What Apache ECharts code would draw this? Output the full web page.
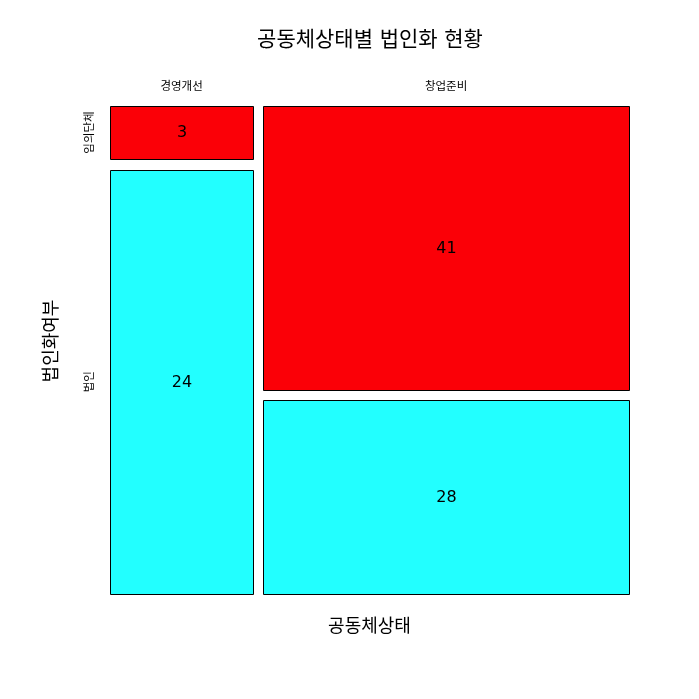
<!DOCTYPE html>
<html><head><meta charset="utf-8">
<script src="https://cdn.jsdelivr.net/npm/echarts@6/dist/echarts.min.js"></script>
<style>html,body{margin:0;padding:0;background:#fff}#c{width:699px;height:699px}</style>
</head><body><div id="c"></div>
<script>
var colCategories = ['경영개선', '창업준비'];
var rowCategories = ['임의단체', '법인'];
// counts[col][row]
var countsByCol = [[3, 24], [41, 28]];
var rowColors = ['#FB0007', '#22FFFF'];
var titleText = '공동체상태별 법인화 현황';
var xTitle = '공동체상태';
var yTitle = '법인화여부';

var FONT = 'DejaVu Sans, Noto Sans CJK KR, sans-serif';
var gridL = 110, gridR = 70, gridT = 106, gridB = 105;
var plotW = 699 - gridL - gridR, plotH = 699 - gridT - gridB;
var gx = 10 / plotW, gy = 10.5 / plotH;

var total = 0, colTotals = countsByCol.map(function (c) { var s = c.reduce(function (a, b) { return a + b; }, 0); total += s; return s; });

var cells = [];
var colCenters = [];
var cumX = 0;
for (var i = 0; i < colCategories.length; i++) {
  var wFrac = colTotals[i] / total * (1 - gx * (colCategories.length - 1));
  var x0 = cumX, x1 = cumX + wFrac;
  colCenters.push((x0 + x1) / 2);
  var cumY = 0;
  for (var j = 0; j < rowCategories.length; j++) {
    var hFrac = countsByCol[i][j] / colTotals[i] * (1 - gy * (rowCategories.length - 1));
    cells.push([x0, x1, cumY, cumY + hFrac, countsByCol[i][j], j, i]);
    cumY += hFrac + gy;
  }
  cumX = x1 + gx;
}
var rowCenters = cells.filter(function (c) { return c[6] === 0; }).map(function (c) { return (c[2] + c[3]) / 2; });

var chart = echarts.init(document.getElementById('c'), null, { renderer: 'canvas' });
chart.setOption({
  backgroundColor: '#fff',
  animation: false,
  grid: { left: gridL, right: gridR, top: gridT, bottom: gridB },
  xAxis: { type: 'value', min: 0, max: 1, show: false },
  yAxis: { type: 'value', min: 0, max: 1, inverse: true, show: false },
  graphic: [
    { type: 'text', x: 370, y: 41, style: { text: titleText, fontFamily: FONT, fontSize: 21, fill: '#000', align: 'center', verticalAlign: 'middle' } },
    { type: 'text', x: gridL + plotW / 2, y: 627, style: { text: xTitle, fontFamily: FONT, fontSize: 18, fill: '#000', align: 'center', verticalAlign: 'middle' } },
    { type: 'text', x: 52, y: 341, rotation: Math.PI / 2, style: { text: yTitle, fontFamily: FONT, fontSize: 18, fill: '#000', align: 'center', verticalAlign: 'middle' } }
  ],
  series: [
    {
      type: 'custom',
      data: cells,
      encode: { x: [0, 1], y: [2, 3] },
      renderItem: function (params, api) {
        var p0 = api.coord([api.value(0), api.value(2)]);
        var p1 = api.coord([api.value(1), api.value(3)]);
        var x = Math.round(p0[0]) + 0.5, y = Math.round(p0[1]) + 0.5;
        var w = Math.round(p1[0]) - Math.round(p0[0]), h = Math.round(p1[1]) - Math.round(p0[1]);
        return {
          type: 'group',
          children: [
            { type: 'rect', shape: { x: x, y: y, width: w, height: h },
              style: { fill: rowColors[api.value(5)], stroke: '#000', lineWidth: 1 } },
            { type: 'text', x: x + w / 2, y: y + h / 2,
              style: { text: String(api.value(4)), fontFamily: FONT, fontSize: 16, fill: '#000', align: 'center', verticalAlign: 'middle' } }
          ]
        };
      }
    },
    {
      type: 'custom',
      data: colCenters.map(function (c, i) { return [c, i]; }),
      encode: { x: 0 },
      renderItem: function (params, api) {
        var p = api.coord([api.value(0), 0]);
        return { type: 'text', x: p[0], y: 87,
          style: { text: colCategories[api.value(1)], fontFamily: FONT, fontSize: 11.5, fill: '#000', align: 'center', verticalAlign: 'middle' } };
      }
    },
    {
      type: 'custom',
      data: rowCenters.map(function (c, i) { return [0, c, i]; }),
      encode: { y: 1 },
      renderItem: function (params, api) {
        var p = api.coord([0, api.value(1)]);
        return { type: 'text', x: 90, y: p[1], rotation: Math.PI / 2,
          style: { text: rowCategories[api.value(2)], fontFamily: FONT, fontSize: 11.5, fill: '#000', align: 'center', verticalAlign: 'middle' } };
      }
    }
  ]
});
</script></body></html>
